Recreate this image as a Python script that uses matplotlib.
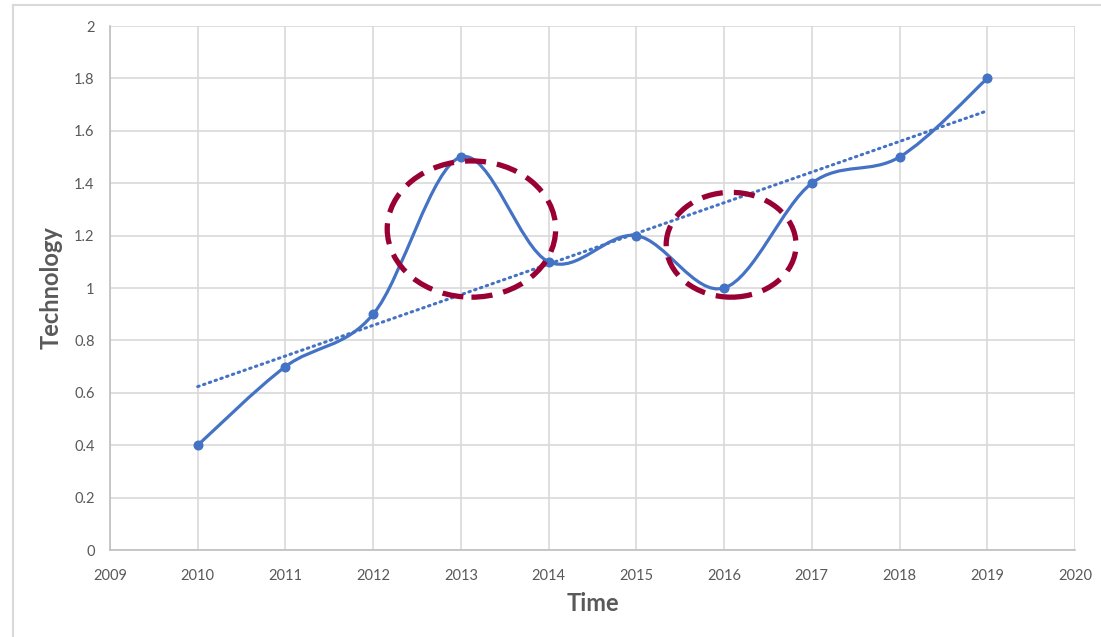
import numpy as np
import matplotlib.pyplot as plt
from matplotlib.path import Path
from matplotlib.patches import PathPatch, Ellipse
from matplotlib.lines import Line2D

years = [2010, 2011, 2012, 2013, 2014, 2015, 2016, 2017, 2018, 2019]
technology = [0.4, 0.7, 0.9, 1.5, 1.1, 1.2, 1.0, 1.4, 1.5, 1.8]

x_ticks = list(range(2009, 2021))
y_ticks = [0, 0.2, 0.4, 0.6, 0.8, 1, 1.2, 1.4, 1.6, 1.8, 2]
y_labels = ['0', '0.2', '0.4', '0.6', '0.8', '1', '1.2', '1.4', '1.6', '1.8', '2']

# highlighted regions: (center x, center y, width, height)
highlights = [(2013.12, 1.225, 1.92, 0.52), (2016.08, 1.165, 1.48, 0.40)]

blue = '#4472C4'
red = '#990033'
grid = '#D9D9D9'
text_c = '#595959'

plt.rcParams['font.family'] = ['Lato', 'DejaVu Sans']

fig = plt.figure(figsize=(11.01, 6.37), dpi=100)
ax = fig.add_axes([110 / 1101, 1 - 550 / 637, 965 / 1101, 524 / 637])


def smooth_path(xs, ys):
    # cubic bezier through every point, Catmull-Rom style tangents
    pts = np.column_stack([xs, ys]).astype(float)
    n = len(pts)
    verts = [pts[0]]
    codes = [Path.MOVETO]
    for i in range(n - 1):
        p0 = pts[max(i - 1, 0)]
        p1 = pts[i]
        p2 = pts[i + 1]
        p3 = pts[min(i + 2, n - 1)]
        c1 = p1 + (p2 - p0) / 6
        c2 = p2 - (p3 - p1) / 6
        verts += [c1, c2, p2]
        codes += [Path.CURVE4] * 3
    return Path(verts, codes)


ax.add_patch(PathPatch(smooth_path(years, technology), fill=False,
                       edgecolor=blue, lw=2.3, zorder=3, capstyle='round'))
ax.plot(years, technology, 'o', color=blue, ms=6.2, zorder=4)

# linear trendline
k, b = np.polyfit(years, technology, 1)
tx = np.array([years[0], years[-1]])
ax.plot(tx, k * tx + b, color=blue, lw=2.2, ls=(0, (0.5, 1.5)),
        dash_capstyle='round', zorder=3)

for cx, cy, w, h in highlights:
    ax.add_patch(Ellipse((cx, cy), w, h, fill=False, edgecolor=red,
                         lw=3.8, ls=(0, (4, 2.1)), zorder=5))

ax.set_xlim(2009, 2020)
ax.set_ylim(0, 2)
ax.set_xticks(x_ticks)
ax.set_yticks(y_ticks)
ax.set_yticklabels(y_labels)
ax.grid(True, color=grid, lw=1.2)
ax.set_axisbelow(True)
ax.tick_params(length=0, labelsize=10.5, colors=text_c)
ax.tick_params(axis='x', pad=14)
ax.tick_params(axis='y', pad=11)
for side in ['top', 'right']:
    ax.spines[side].set_visible(False)
for side in ['left', 'bottom']:
    ax.spines[side].set_color('#BFBFBF')
    ax.spines[side].set_linewidth(1.2)

ax.set_xlabel('Time', fontsize=17, fontweight='bold', color=text_c, labelpad=6)
ax.set_ylabel('Technology', fontsize=17, fontweight='bold', color=text_c, labelpad=8)

# chart frame
fig.add_artist(Line2D([13 / 1101, 13 / 1101], [0, 1 - 5 / 637], color=grid, lw=1.5))
fig.add_artist(Line2D([13 / 1101, 1], [1 - 5 / 637, 1 - 5 / 637], color=grid, lw=1.5))

fig.savefig('out.png', dpi=100)
